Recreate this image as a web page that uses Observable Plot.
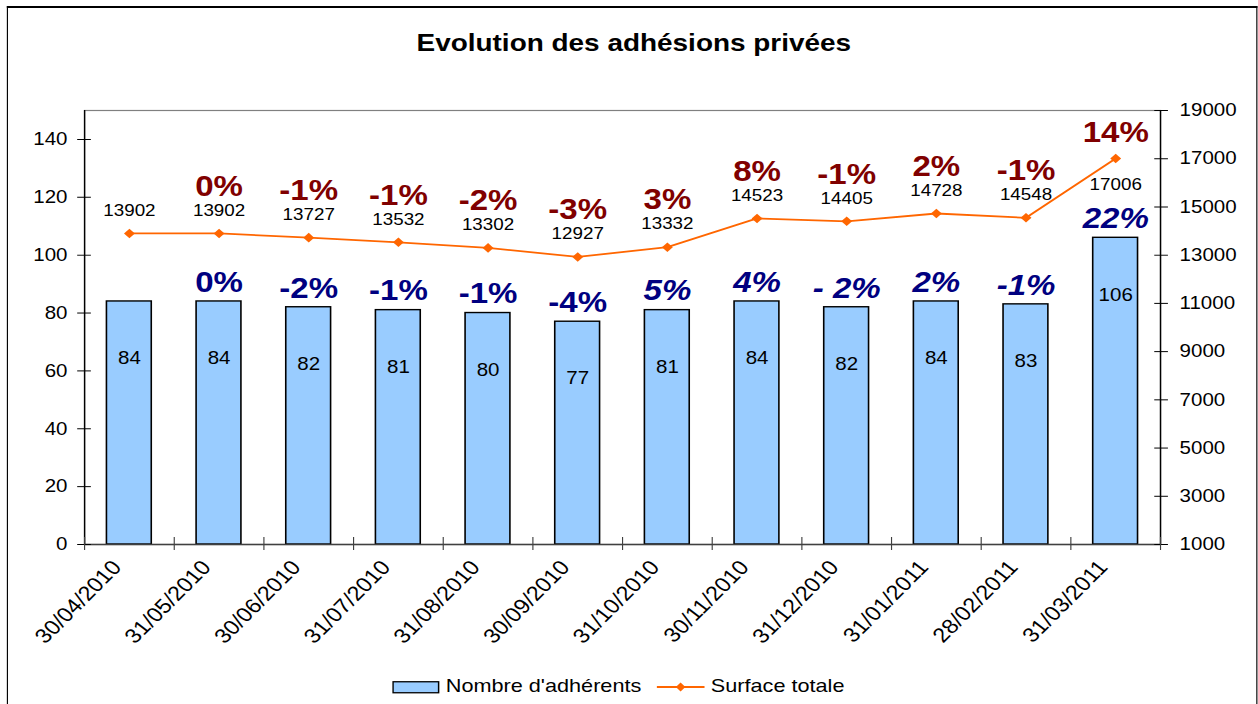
<!DOCTYPE html>
<html>
<head>
<meta charset="utf-8">
<script src="https://cdn.jsdelivr.net/npm/d3@7"></script>
<script src="https://cdn.jsdelivr.net/npm/@observablehq/plot@0.6"></script>
<style>
  html, body { margin: 0; padding: 0; background: #fff; overflow: hidden; width: 1258px; height: 704px; }
  #stage { position: absolute; left: 0; top: 0; width: 1103.5px; height: 704px; transform: scaleX(1.14); transform-origin: 0 0; font-family: "Liberation Sans", Arial, sans-serif; color: #000; }
  #border { position: absolute; left: 5.5px; top: 6px; width: 1097px; height: 710px; box-sizing: border-box; border-top: 2px solid #000; border-left: 1.75px solid #000; border-right: 1.75px solid #000; }
  #title { position: absolute; left: 156px; width: 800px; top: 31px; text-align: center; font-weight: bold; font-size: 24.5px; line-height: 24px; white-space: nowrap; }
  #chart { position: absolute; left: 0; top: 80px; }
  .leg { position: absolute; font-size: 19px; line-height: 19px; top: 676px; white-space: nowrap; }
  .sw { position: absolute; }
</style>
</head>
<body>
<div id="stage">
  <div id="border"></div>
  <div id="title">Evolution des adhésions privées</div>
  <div id="chart"></div>
  <svg class="sw" style="left:344px;top:681px" width="42" height="13"><rect x="0.75" y="0.75" width="40" height="11" fill="#99CCFF" stroke="#000" stroke-width="1.3"/></svg>
  <div class="leg" style="left:391px">Nombre d'adhérents</div>
  <svg class="sw" style="left:576px;top:680px" width="43" height="14"><line x1="0" y1="7" x2="42" y2="7" stroke="#FF6600" stroke-width="1.8"/><path d="M21,2.4 L25.2,7 L21,11.6 L16.8,7 Z" fill="#FF6600"/></svg>
  <div class="leg" style="left:623.5px">Surface totale</div>
</div>
<script>
// ---- data ----
const dates = ["30/04/2010","31/05/2010","30/06/2010","31/07/2010","31/08/2010","30/09/2010","31/10/2010","30/11/2010","31/12/2010","31/01/2011","28/02/2011","31/03/2011"];
const adherents = [84, 84, 82, 81, 80, 77, 81, 84, 82, 84, 83, 106];
const adherentsPct = ["", "0%", "-2%", "-1%", "-1%", "-4%", "5%", "4%", "- 2%", "2%", "-1%", "22%"];
const surface = [13902, 13902, 13727, 13532, 13302, 12927, 13332, 14523, 14405, 14728, 14548, 17006];
const surfacePct = ["", "0%", "-1%", "-1%", "-2%", "-3%", "3%", "8%", "-1%", "2%", "-1%", "14%"];
const leftTicks = [0, 20, 40, 60, 80, 100, 120, 140];
const rightTicks = [1000, 3000, 5000, 7000, 9000, 11000, 13000, 15000, 17000, 19000];
const leftMax = 150;

// ---- helpers ----
const R0 = rightTicks[0], R1 = rightTicks[rightTicks.length - 1];
const conv = v => (v - R0) / (R1 - R0) * leftMax;       // right axis -> left units
const unconv = u => String(Math.round(u / leftMax * (R1 - R0) + R0));
const n = dates.length;
const rows = dates.map((d, i) => ({i, date: d, n: adherents[i], np: adherentsPct[i], s: surface[i], sp: surfacePct[i]}));
const last = n - 1;
const cx = d => d.i + 0.5;
const sy = d => conv(d.s);

const RED = "#800000", NAVY = "#000080", ORANGE = "#FF6600";

const chart = Plot.plot({
  width: 1103.5,
  height: 580,
  marginTop: 30,
  marginBottom: 116,
  marginLeft: 73.7,
  marginRight: 86,
  style: {fontFamily: "'Liberation Sans', Arial, sans-serif", fontSize: "18px", color: "#000", background: "transparent"},
  x: {domain: [0, n]},
  y: {domain: [0, leftMax]},
  marks: [
    Plot.frame({stroke: "#808080", strokeWidth: 1.2}),
    Plot.rectY(rows, {x1: d => d.i + 0.25, x2: d => d.i + 0.75, y: "n", fill: "#99CCFF", stroke: "#000", strokeWidth: 1.4}),
    Plot.ruleY([0], {stroke: "#404040", strokeWidth: 1.3}),
    Plot.ruleX([0, n], {stroke: "#000", strokeWidth: 1.2}),
    Plot.axisY(leftTicks, {anchor: "left", tickSize: 12, dx: 6, tickPadding: 9, fontSize: 18, label: null, tickFormat: d => String(d), stroke: "#000"}),
    Plot.axisY(rightTicks.map(conv), {anchor: "right", tickSize: 12, dx: -6, tickPadding: 10.7, fontSize: 18, label: null, tickFormat: unconv, stroke: "#000"}),
    Plot.axisX(d3.range(0, n + 1), {anchor: "bottom", tickSize: 13, dy: -7, label: null, tickFormat: () => "", stroke: "#404040"}),
    // x category labels
    Plot.text(rows, {x: cx, y: () => 0, text: "date", rotate: -48.7, textAnchor: "end", dx: -11, dy: 19, fontSize: 20.5, fill: "#000"}),
    // bar value labels
    Plot.text(rows, {x: cx, y: "n", text: d => String(d.n), dy: 57, fontSize: 18, fill: "#000"}),
    // bar % labels (upright then italic)
    Plot.text(rows.filter(d => d.i < 6), {x: cx, y: "n", text: "np", dy: -19, fontSize: 29, fontWeight: "bold", fill: NAVY}),
    Plot.text(rows.filter(d => d.i >= 6), {x: cx, y: "n", text: "np", dy: -19, fontSize: 29, fontWeight: "bold", fontStyle: "italic", fill: NAVY}),
    // surface line
    Plot.line(rows, {x: cx, y: sy, stroke: ORANGE, strokeWidth: 1.8}),
    Plot.dot(rows, {x: cx, y: sy, symbol: "diamond2", r: 4.3, fill: ORANGE, stroke: null}),
    // surface value labels
    Plot.text(rows.filter(d => d.i !== last), {x: cx, y: sy, text: d => String(d.s), dy: -23, fontSize: 16.5, fill: "#000"}),
    Plot.text(rows.filter(d => d.i === last), {x: cx, y: sy, text: d => String(d.s), dy: 26, fontSize: 16.5, fill: "#000"}),
    // surface % labels
    Plot.text(rows.filter(d => d.i !== last), {x: cx, y: sy, text: "sp", dy: -47, fontSize: 29, fontWeight: "bold", fill: RED}),
    Plot.text(rows.filter(d => d.i === last), {x: cx, y: sy, text: "sp", dy: -26, fontSize: 29, fontWeight: "bold", fill: RED})
  ]
});
document.getElementById("chart").appendChild(chart);
</script>
</body>
</html>
